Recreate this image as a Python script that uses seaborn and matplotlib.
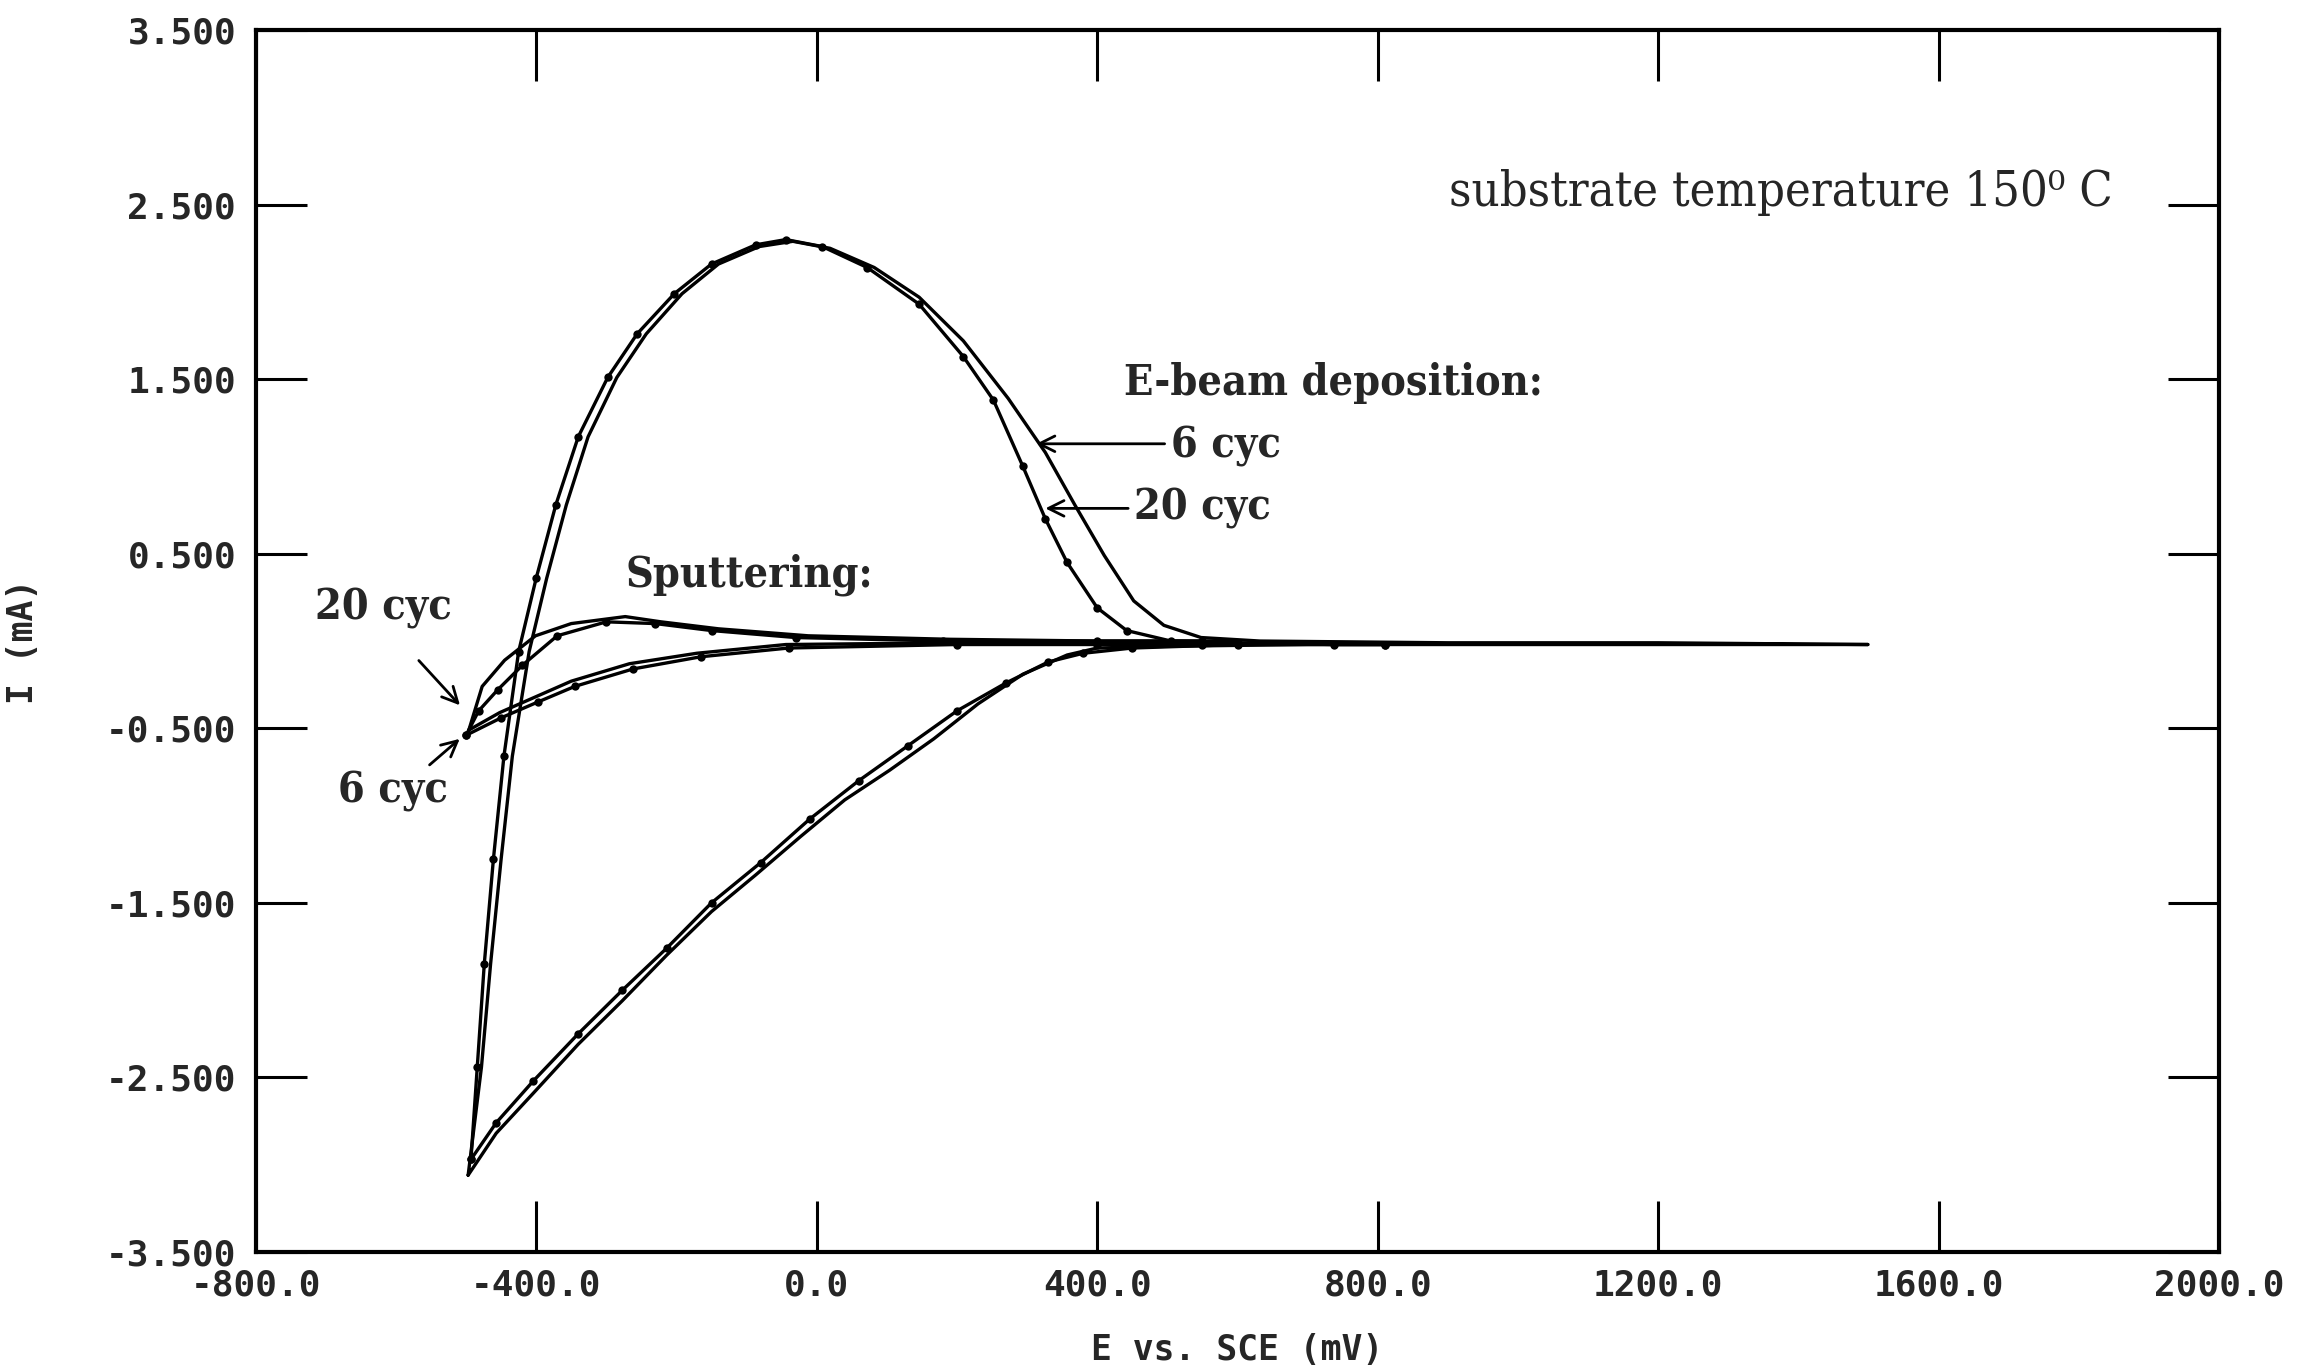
import numpy as np
import pandas as pd
import matplotlib
matplotlib.use("Agg")
import matplotlib.pyplot as plt
import seaborn as sns

# E-beam deposition, 6 cycles (solid line) -- anodic sweep then cathodic return
ebeam6_fwd_e = [-497, -478, -465, -450, -434, -410, -385, -357, -326, -285, -243, -192, -140,
                -82, -34, 19, 82, 146, 209, 273, 326, 368, 410, 452, 495, 548, 632, 900, 1200, 1499]
ebeam6_fwd_i = [-3.06, -2.44, -1.85, -1.25, -0.66, -0.06, 0.36, 0.78, 1.17, 1.51, 1.76, 1.99, 2.16,
                2.26, 2.29, 2.25, 2.14, 1.97, 1.72, 1.39, 1.08, 0.78, 0.49, 0.23, 0.09, 0.02, 0.0, -0.01, -0.01, -0.02]
ebeam6_rev_e = [1499, 1000, 700, 500, 400, 357, 294, 230, 167, 104, 40, -23, -87, -150, -214,
                -277, -340, -404, -457, -497]
ebeam6_rev_i = [-0.02, -0.02, -0.02, -0.03, -0.04, -0.08, -0.19, -0.36, -0.56, -0.74, -0.91, -1.12,
                -1.34, -1.55, -1.80, -2.06, -2.31, -2.59, -2.82, -3.06]

# E-beam deposition, 20 cycles (line with dots)
ebeam20_fwd_e = [-493, -484, -474, -461, -446, -425, -400, -372, -340, -298, -256, -203, -150,
                 -87, -44, 8, 72, 146, 209, 252, 294, 326, 357, 400, 442, 505, 600, 738, 810]
ebeam20_fwd_i = [-2.97, -2.44, -1.85, -1.25, -0.66, -0.06, 0.36, 0.78, 1.17, 1.51, 1.76, 1.99, 2.16,
                 2.27, 2.30, 2.26, 2.14, 1.93, 1.63, 1.38, 1.00, 0.70, 0.45, 0.19, 0.06, 0.0, -0.01, -0.02, -0.02]
ebeam20_rev_e = [810, 600, 450, 380, 330, 270, 200, 130, 60, -10, -80, -150, -214, -277, -340,
                 -404, -457, -493]
ebeam20_rev_i = [-0.02, -0.02, -0.04, -0.07, -0.12, -0.24, -0.40, -0.60, -0.80, -1.02, -1.27,
                 -1.50, -1.76, -2.00, -2.25, -2.52, -2.76, -2.97]

# Sputtering, 20 cycles
sput20_fwd_e = [-496, -477, -445, -401, -350, -273, -222, -140, -12, 190, 400, 600]
sput20_fwd_i = [-0.51, -0.26, -0.11, 0.03, 0.10, 0.14, 0.11, 0.07, 0.03, 0.01, 0.0, 0.0]
sput20_rev_e = [600, 400, 200, -44, -171, -267, -350, -401, -452, -496]
sput20_rev_i = [-0.01, -0.01, -0.01, -0.02, -0.07, -0.13, -0.23, -0.32, -0.41, -0.51]

# Sputtering, 6 cycles
sput6_fwd_e = [-500, -482, -455, -420, -370, -300, -230, -150, -30, 180, 400, 550]
sput6_fwd_i = [-0.54, -0.40, -0.28, -0.14, 0.03, 0.11, 0.10, 0.06, 0.02, 0.0, 0.0, 0.0]
sput6_rev_e = [550, 400, 200, -40, -165, -262, -345, -398, -450, -500]
sput6_rev_i = [-0.02, -0.02, -0.02, -0.04, -0.09, -0.16, -0.26, -0.35, -0.44, -0.54]

x_ticks = [-800, -400, 0, 400, 800, 1200, 1600, 2000]
y_ticks = [-3.5, -2.5, -1.5, -0.5, 0.5, 1.5, 2.5, 3.5]


def loop_frame(fwd_e, fwd_i, rev_e, rev_i):
    df = pd.DataFrame({"E": fwd_e + rev_e, "I": fwd_i + rev_i})
    df["order"] = np.arange(len(df))
    return df


sns.set_style("ticks")
plt.rcParams["font.family"] = ["DejaVu Sans Mono"]

fig = plt.figure(figsize=(23.24, 13.69), dpi=100)
ax = fig.add_axes([0.110, 0.0855, 0.845, 0.8925])

curves = [
    (loop_frame(ebeam6_fwd_e, ebeam6_fwd_i, ebeam6_rev_e, ebeam6_rev_i), None),
    (loop_frame(ebeam20_fwd_e, ebeam20_fwd_i, ebeam20_rev_e, ebeam20_rev_i), "o"),
    (loop_frame(sput20_fwd_e, sput20_fwd_i, sput20_rev_e, sput20_rev_i), None),
    (loop_frame(sput6_fwd_e, sput6_fwd_i, sput6_rev_e, sput6_rev_i), "o"),
]
for df, mk in curves:
    sns.lineplot(data=df, x="E", y="I", sort=False, estimator=None, color="black",
                 linewidth=2.4, marker=mk, markersize=6, markeredgewidth=0, ax=ax)

ax.set_xlim(-800, 2000)
ax.set_ylim(-3.5, 3.5)
ax.set_xticks(x_ticks)
ax.set_yticks(y_ticks)
ax.set_xticklabels([f"{v:.1f}" for v in x_ticks])
ax.set_yticklabels([f"{v:.3f}" for v in y_ticks])
ax.tick_params(direction="in", length=37, width=2.2, top=True, right=True,
               labelsize=26, color="black")
ax.tick_params(axis="x", pad=12)
ax.tick_params(axis="y", pad=14)
for lab in ax.get_xticklabels() + ax.get_yticklabels():
    lab.set_fontweight("bold")
for sp in ax.spines.values():
    sp.set_visible(True)
    sp.set_linewidth(3)
    sp.set_color("black")

ax.set_xlabel("E vs. SCE (mV)", fontsize=25, fontweight="bold")
ax.set_ylabel("I (mA)", fontsize=25, fontweight="bold")
ax.xaxis.set_label_coords(0.5, -0.066)
ax.yaxis.set_label_coords(-0.110, 0.5)

serif = ["DejaVu Serif"]
note = dict(fontsize=31, family=serif, fontstretch="condensed", fontweight="bold",
            ha="left", va="center")
ax.text(1848, 2.57, "substrate temperature 150\u2070 C", fontsize=35, family=serif,
        fontstretch="condensed", ha="right", va="center")
ax.text(438, 1.48, "E-beam deposition:", **note)
ax.text(505, 1.12, "6 cyc", **note)
ax.text(452, 0.76, "20 cyc", **note)
ax.text(-273, 0.38, "Sputtering:", **note)
ax.text(-715, 0.19, "20 cyc", **note)
ax.text(-683, -0.86, "6 cyc", **note)

arrow = dict(arrowstyle="->", color="black", lw=2, mutation_scale=28)
ax.annotate("", xy=(309, 1.13), xytext=(500, 1.13), arrowprops=arrow)
ax.annotate("", xy=(322, 0.76), xytext=(448, 0.76), arrowprops=arrow)
ax.annotate("", xy=(-506, -0.38), xytext=(-570, -0.10), arrowprops=arrow)
ax.annotate("", xy=(-506, -0.55), xytext=(-555, -0.72), arrowprops=arrow)

fig.savefig("out.png", dpi=100)
